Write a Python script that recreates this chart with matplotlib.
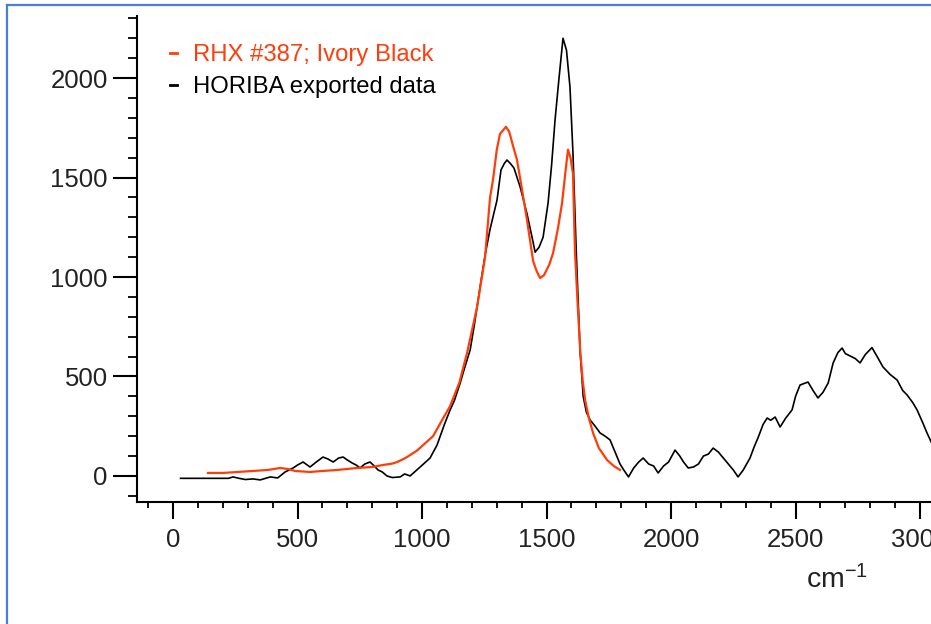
import numpy as np
import matplotlib.pyplot as plt
from matplotlib.lines import Line2D
from matplotlib.ticker import MultipleLocator

plt.rcParams['font.family'] = ['Liberation Sans', 'DejaVu Sans']
plt.rcParams['mathtext.default'] = 'regular'

# HORIBA exported data (black)
horiba_x = [30, 200, 222, 241, 265, 290, 321, 350, 390, 420, 450, 482, 500, 522, 550, 575,
            602, 622, 643, 665, 683, 700, 719, 735, 751, 770, 791, 808, 823, 840, 859, 880,
            912, 930, 952, 970, 992, 1010, 1032, 1060, 1090, 1112, 1130, 1153, 1170, 1193, 1210,
            1233, 1253, 1273, 1290, 1301, 1317, 1330, 1341, 1355, 1369, 1394, 1421, 1440, 1454,
            1470, 1486, 1506, 1520, 1534, 1550, 1566, 1580, 1594, 1606, 1620, 1635, 1647, 1660,
            1675, 1695, 1715, 1735, 1755, 1775, 1795, 1810, 1829, 1850, 1870, 1888, 1910, 1930,
            1948, 1970, 1990, 2016, 2035, 2050, 2069, 2090, 2110, 2130, 2150, 2169, 2190, 2210,
            2230, 2250, 2269, 2290, 2317, 2335, 2349, 2370, 2386, 2400, 2418, 2438, 2460, 2486,
            2500, 2518, 2535, 2550, 2570, 2590, 2610, 2631, 2651, 2670, 2687, 2700, 2719, 2740,
            2759, 2780, 2807, 2830, 2851, 2880, 2908, 2930, 2948, 2970, 2988, 3010, 3028, 3045]
horiba_y = [-12, -12, -12, -5, -12, -18, -15, -20, -5, -10, 20, 40, 55, 70, 45, 70,
            95, 85, 70, 90, 95, 80, 65, 55, 40, 60, 70, 50, 30, 20, 0, -8,
            -5, 10, 0, 20, 45, 65, 90, 155, 260, 330, 380, 467, 540, 633, 760,
            950, 1110, 1240, 1330, 1387, 1538, 1570, 1588, 1570, 1548, 1452, 1320, 1210, 1125,
            1150, 1200, 1372, 1560, 1789, 2000, 2200, 2140, 1955, 1623, 1100, 620, 400, 320,
            281, 250, 216, 200, 181, 120, 60, 30, -5, 40, 70, 90, 60, 50,
            15, 50, 70, 130, 100, 70, 40, 45, 60, 100, 110, 140, 120, 90,
            60, 30, -5, 30, 90, 150, 191, 260, 291, 280, 296, 246, 290, 332,
            400, 457, 465, 472, 430, 392, 420, 467, 568, 620, 643, 615, 603, 590,
            568, 610, 645, 595, 548, 510, 482, 430, 407, 370, 332, 270, 216, 170]

# RHX #387; Ivory Black (red)
rhx_x = [140, 200, 260, 321, 380, 430, 460, 490, 550, 600, 659, 739, 800, 843, 880, 900,
         930, 952, 980, 1004, 1044, 1080, 1112, 1150, 1181, 1221, 1253, 1273, 1285, 1300,
         1313, 1337, 1350, 1365, 1381, 1400, 1421, 1446, 1460, 1474, 1490, 1510, 1526, 1545,
         1562, 1575, 1586, 1596, 1606, 1614, 1625, 1635, 1645, 1655, 1670, 1687, 1710, 1743,
         1770, 1795]
rhx_y = [15, 15, 20, 25, 30, 40, 35, 25, 20, 25, 30, 40, 45, 55, 62, 70,
         88, 105, 128, 155, 200, 280, 350, 470, 620, 850, 1100, 1400, 1490, 1640,
         1720, 1755, 1730, 1660, 1590, 1450, 1290, 1080, 1030, 995, 1010, 1060, 1120, 1240,
         1370, 1520, 1640, 1600, 1520, 1130, 860, 630, 480, 380, 290, 215, 140, 80,
         50, 30]

red = '#ff3d0a'
W, H = 931, 624
fig = plt.figure(figsize=(W / 100, H / 100), dpi=100)
ax = fig.add_axes([137 / W, (H - 502) / H, (W - 137) / W, (502 - 16) / H])

ax.plot(horiba_x, horiba_y, color='black', lw=1.2, label='HORIBA exported data', zorder=2)
ax.plot(rhx_x, rhx_y, color=red, lw=1.6, label='RHX #387; Ivory Black', zorder=3)

ax.set_xlim(-145, 3044)
ax.set_ylim(-131, 2312)

for s in ['top', 'right']:
    ax.spines[s].set_visible(False)
for s in ['left', 'bottom']:
    ax.spines[s].set_linewidth(1.5)

ax.xaxis.set_major_locator(MultipleLocator(500))
ax.xaxis.set_minor_locator(MultipleLocator(100))
ax.yaxis.set_major_locator(MultipleLocator(500))
ax.yaxis.set_minor_locator(MultipleLocator(100))
ax.tick_params(axis='y', which='major', length=17, width=1.5, labelsize=18.5, pad=4, labelcolor='#222222')
ax.tick_params(axis='y', which='minor', length=6.5, width=1.3)
ax.tick_params(axis='x', which='major', length=12.5, width=1.5, labelsize=18.5, pad=6, labelcolor='#222222')
ax.tick_params(axis='x', which='minor', length=4.5, width=1.3)

h, l = ax.get_legend_handles_labels()
leg = ax.legend(h[::-1], l[::-1], loc='upper left', bbox_to_anchor=(170 / W, 1 - 44 / H),
                bbox_transform=fig.transFigure, frameon=False, fontsize=17.2,
                handlelength=0.28, handletextpad=0.7, labelspacing=0.42, borderpad=0,
                borderaxespad=0, labelcolor='linecolor')
for ln in leg.get_lines():
    ln.set_linewidth(2)

fig.text(837 / W, 1 - 580 / H, 'cm$^{-1}$', fontsize=20.5, ha='center', va='center', color='#222222')

# blue frame of the screenshot
fig.add_artist(Line2D([6.5 / W, 6.5 / W], [0, 1 - 5 / H], color='#4a7fd8', lw=1.6))
fig.add_artist(Line2D([6.5 / W, 1], [1 - 5 / H, 1 - 5 / H], color='#4a7fd8', lw=1.6))

fig.savefig('out.png', dpi=100)
